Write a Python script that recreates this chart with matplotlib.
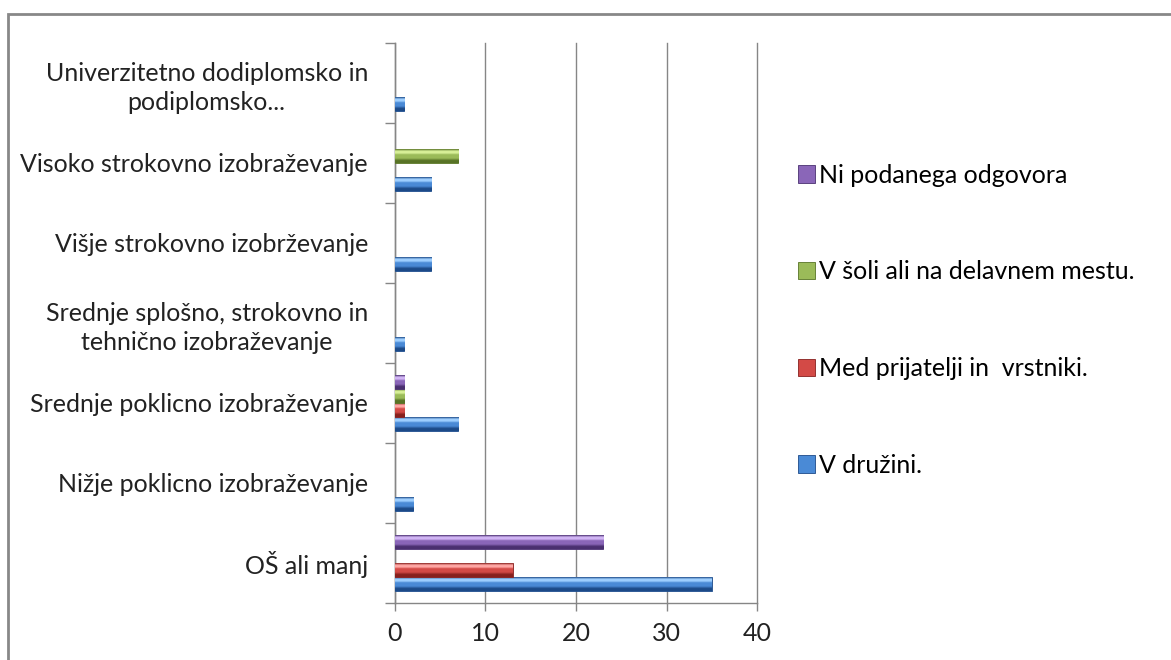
import matplotlib

matplotlib.use("Agg")
import matplotlib.pyplot as plt
import numpy as np
from matplotlib.colors import LinearSegmentedColormap
from matplotlib.patches import Rectangle

plt.rcParams["font.family"] = ["Lato", "DejaVu Sans"]

# kategorije od spodaj navzgor
categories = [
    "OŠ ali manj",
    "Nižje poklicno izobraževanje",
    "Srednje poklicno izobraževanje",
    "Srednje splošno, strokovno in\ntehnično izobraževanje",
    "Višje strokovno izobrževanje",
    "Visoko strokovno izobraževanje",
    "Univerzitetno dodiplomsko in\npodiplomsko...",
]

series_names = [
    "V družini.",
    "Med prijatelji in  vrstniki.",
    "V šoli ali na delavnem mestu.",
    "Ni podanega odgovora",
]
v_druzini = [35, 2, 7, 1, 4, 4, 1]
med_prijatelji = [13, 0, 1, 0, 0, 0, 0]
v_soli = [0, 0, 1, 0, 0, 7, 0]
ni_odgovora = [23, 0, 1, 0, 0, 0, 0]

x_ticks = [0, 10, 20, 30, 40]

FS = 18
GREY = "#868686"

# (svetla, osnovna, temna) za "bevel" učinek
SHADES = [
    ("#9fd0ff", "#4a8ad6", "#1c4a88"),
    ("#ffa8a5", "#d34a46", "#87201e"),
    ("#d8f098", "#9bbb59", "#587326"),
    ("#d2b6f5", "#8a66b8", "#4a3070"),
]


def bevel_fill(ax, bars, shades):
    """Vsako palico prekrije z navpičnim prelivom, porezanim na obliko palice."""
    light, mid, dark = shades
    cmap = LinearSegmentedColormap.from_list(
        "bevel",
        [(0.0, dark), (0.18, dark), (0.35, mid), (0.6, mid), (0.72, light), (0.86, light), (1.0, dark)],
    )
    grad = np.linspace(0, 1, 64).reshape(-1, 1)
    for bar in bars:
        if bar.get_width() <= 0:
            continue
        x0, y0 = bar.get_x(), bar.get_y()
        im = ax.imshow(
            grad, cmap=cmap, origin="lower", aspect="auto", interpolation="bilinear",
            extent=(x0, x0 + bar.get_width(), y0, y0 + bar.get_height()), zorder=3,
        )
        im.set_clip_path(bar)
        bar.set_edgecolor(dark)


fig = plt.figure(figsize=(11.71, 6.6), dpi=100)
ax = fig.add_axes([0.3373, 0.0864, 0.3092, 0.8485])

y = np.arange(len(categories))
h = 0.175
all_series = [v_druzini, med_prijatelji, v_soli, ni_odgovora]
handles = []
for k, (vals, name, shades) in enumerate(zip(all_series, series_names, SHADES)):
    bars = ax.barh(
        y + (k - 1.5) * h, vals, height=h * 0.95, color=shades[1],
        linewidth=0.6, label=name, zorder=3,
    )
    bevel_fill(ax, bars, shades)
    handles.append(bars)

ax.set_xlim(0, 40)
ax.set_ylim(-0.5, len(categories) - 0.5)
ax.set_xticks(x_ticks)
ax.set_xticklabels([str(t) for t in x_ticks], fontsize=FS, color="#222222")
ax.set_yticks(y)
ax.set_yticklabels(categories, fontsize=FS, color="#222222",
                   multialignment="center", linespacing=1.3)
ax.set_yticks(np.arange(len(categories) + 1) - 0.5, minor=True)
ax.tick_params(axis="y", which="major", length=0, pad=19.5)
ax.tick_params(axis="y", which="minor", length=7, color=GREY, width=1)
ax.tick_params(axis="x", length=5.8, color=GREY, width=1, pad=8)

ax.grid(axis="x", color=GREY, linewidth=1, zorder=0)
for line in ax.get_xgridlines():
    line.set_clip_on(False)
for side in ("top", "right"):
    ax.spines[side].set_visible(False)
for side in ("left", "bottom"):
    ax.spines[side].set_color(GREY)
    ax.spines[side].set_linewidth(1)

leg = fig.legend(
    handles[::-1], series_names[::-1], loc="upper left",
    bbox_to_anchor=(0.662, 0.786), frameon=False, fontsize=FS,
    handlelength=0.7, handleheight=0.7, handletextpad=0.15, labelspacing=2.95,
)
for patch, shades in zip(leg.get_patches(), SHADES[::-1]):
    patch.set_facecolor(shades[1])
    patch.set_edgecolor(shades[2])

# okvir grafikona (desni in spodnji rob sta izven slike)
fig.patches.append(Rectangle(
    (8 / 1171, -0.1), 1.2, 0.1 + (1 - 14 / 660), transform=fig.transFigure,
    fill=False, edgecolor="#888888", linewidth=2, zorder=10,
))

fig.savefig("out.png", dpi=100, facecolor="white")
